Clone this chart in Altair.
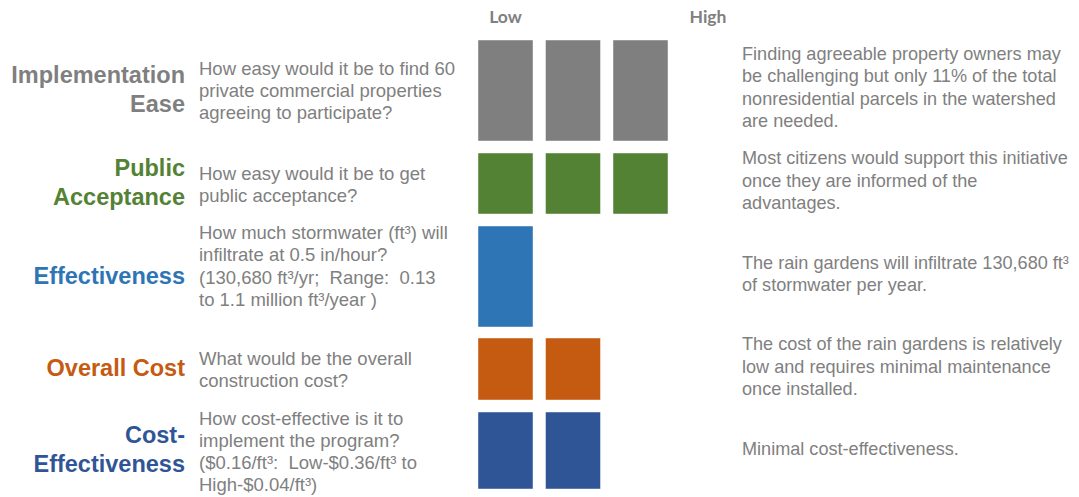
import altair as alt
import pandas as pd

# ---------------- data ----------------
criteria_lines = [
    ["Implementation", "Ease"],
    ["Public", "Acceptance"],
    ["Effectiveness"],
    ["Overall Cost"],
    ["Cost-", "Effectiveness"],
]
questions = [
    ["How easy would it be to find 60", "private commercial properties", "agreeing to participate?"],
    ["How easy would it be to get", "public acceptance?"],
    ["How much stormwater (ft\u00b3) will", "infiltrate at 0.5 in/hour?",
     "(130,680 ft\u00b3/yr; \u00a0Range: \u00a00.13", "to 1.1 million ft\u00b3/year )"],
    ["What would be the overall", "construction cost?"],
    ["How cost-effective is it to", "implement the program?",
     "($0.16/ft\u00b3: \u00a0Low-$0.36/ft\u00b3 to", "High-$0.04/ft\u00b3)"],
]
scores = [3, 3, 1, 2, 2]
descriptions = [
    ["Finding agreeable property owners may", "be challenging but only 11% of the total",
     "nonresidential parcels in the watershed", "are needed."],
    ["Most citizens would support this initiative", "once they are informed of the", "advantages."],
    ["The rain gardens will infiltrate 130,680 ft\u00b3", "of stormwater per year."],
    ["The cost of the rain gardens is relatively", "low and requires minimal maintenance", "once installed."],
    ["Minimal cost-effectiveness."],
]
colors = ["#7F7F7F", "#548235", "#2E75B6", "#C55A11", "#2F5597"]
scale_labels = ["Low", "High"]
scale_label_levels = [1, 4]

# ---------------- layout ----------------
W, H = 1063, 481
row_top = [32, 145, 218, 330, 404]
row_bot = [133, 206, 319, 392, 481]
level_x0, level_step, cell_w = 470, 67.5, 55
label_x, question_x, desc_x = 177, 191, 734
label_y = [82.5, 175.5, 268.5, 361, 442.5]
question_y = [83, 177, 258.5, 362, 444]
desc_y = [80.5, 173.5, 267, 359.5, 442]
header_y = 9.5
LAB_LH, Q_LH, D_LH = 29, 22.3, 22.5
TEXT_GRAY = "#808080"


def first_line_y(center, lines, lh):
    return center - (len(lines) - 1) * lh / 2


cells = []
for i, s in enumerate(scores):
    for lvl in range(1, s + 1):
        x0 = level_x0 + (lvl - 1) * level_step
        cells.append(dict(row=i, x=x0, x2=x0 + cell_w, y=row_top[i], y2=row_bot[i], color=colors[i]))
cells = pd.DataFrame(cells)

labels = pd.DataFrame(dict(
    text=["\n".join(l) for l in criteria_lines], x=label_x,
    y=[first_line_y(c, l, LAB_LH) for c, l in zip(label_y, criteria_lines)], color=colors))
qs = pd.DataFrame(dict(
    text=["\n".join(q) for q in questions], x=question_x,
    y=[first_line_y(c, l, Q_LH) for c, l in zip(question_y, questions)]))
ds = pd.DataFrame(dict(
    text=["\n".join(d) for d in descriptions], x=desc_x,
    y=[first_line_y(c, l, D_LH) for c, l in zip(desc_y, descriptions)]))
hd = pd.DataFrame(dict(text=scale_labels,
                       x=[level_x0 + (l - 1) * level_step + cell_w / 2 for l in scale_label_levels],
                       y=header_y))

xs = alt.Scale(domain=[0, W], nice=False, zero=False)
ys = alt.Scale(domain=[0, H], nice=False, zero=False, reverse=True)

rects = alt.Chart(cells).mark_rect(stroke="#ffffff", strokeOpacity=0.45, strokeWidth=1).encode(
    x=alt.X("x:Q", scale=xs, axis=None), x2="x2:Q",
    y=alt.Y("y:Q", scale=ys, axis=None), y2="y2:Q",
    color=alt.Color("color:N", scale=None),
)

lab = alt.Chart(labels).mark_text(
    align="right", baseline="middle", font="Liberation Sans", fontWeight="bold",
    fontSize=23.5, lineHeight=LAB_LH, lineBreak="\n",
).encode(
    x=alt.X("x:Q", scale=xs, axis=None), y=alt.Y("y:Q", scale=ys, axis=None),
    text="text:N", color=alt.Color("color:N", scale=None),
)

qtext = alt.Chart(qs).mark_text(
    align="left", baseline="middle", font="Liberation Sans", fontSize=18.5,
    lineHeight=Q_LH, lineBreak="\n", color=TEXT_GRAY,
).encode(x=alt.X("x:Q", scale=xs, axis=None), y=alt.Y("y:Q", scale=ys, axis=None), text="text:N")

dtext = alt.Chart(ds).mark_text(
    align="left", baseline="middle", font="Liberation Sans", fontSize=18.1,
    lineHeight=D_LH, lineBreak="\n", color=TEXT_GRAY,
).encode(x=alt.X("x:Q", scale=xs, axis=None), y=alt.Y("y:Q", scale=ys, axis=None), text="text:N")

htext = alt.Chart(hd).mark_text(
    align="center", baseline="middle", font="Lato", fontWeight="bold", fontSize=17.5, color=TEXT_GRAY,
).encode(x=alt.X("x:Q", scale=xs, axis=None), y=alt.Y("y:Q", scale=ys, axis=None), text="text:N")

chart = alt.layer(rects, lab, qtext, dtext, htext).properties(
    width=W, height=H,
    padding={"left": 0, "top": 0, "right": 0, "bottom": 8},
    autosize=alt.AutoSizeParams(type="none"),
).configure_view(stroke=None)

chart.save("out.html", embed_options={"renderer": "svg", "actions": False})
